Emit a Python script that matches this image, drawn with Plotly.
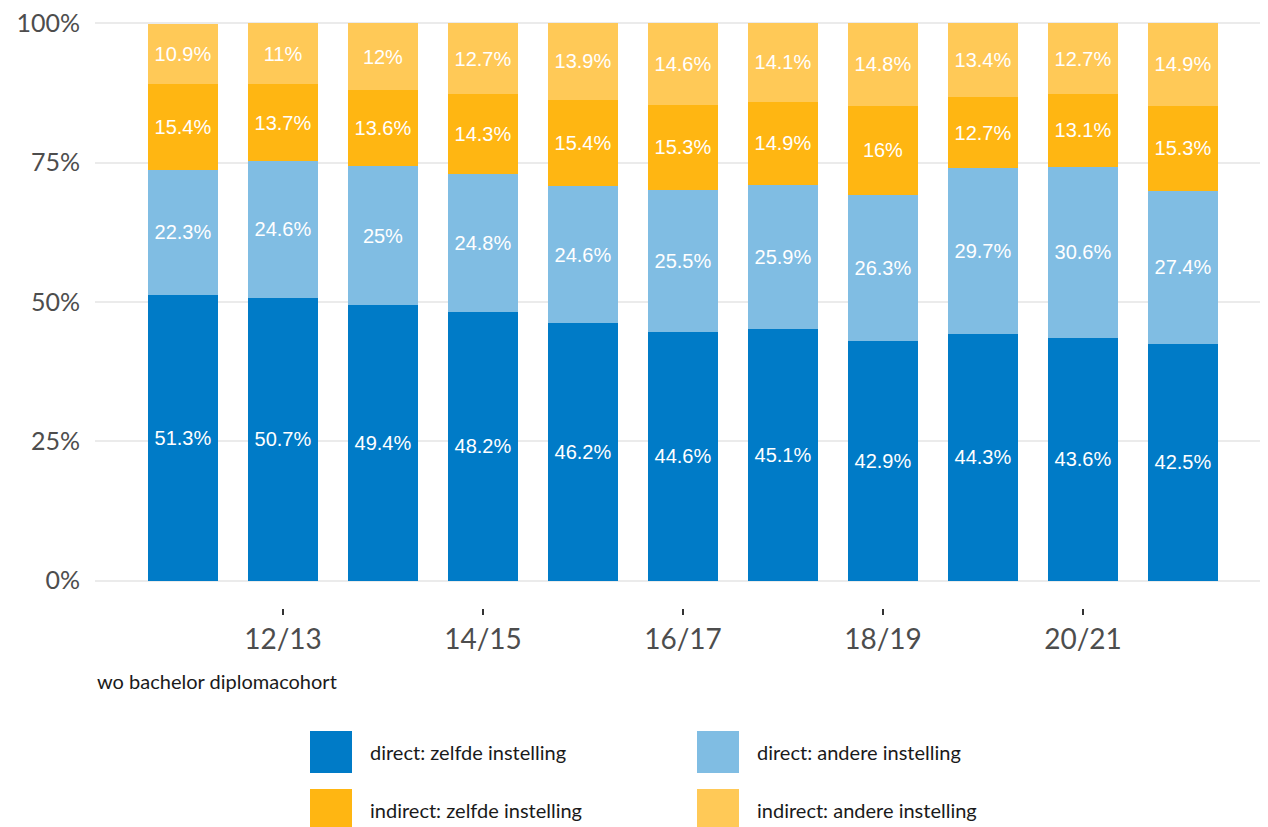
import plotly.graph_objects as go

# cohorten (x-as) en aandelen per categorie, in %
cohorten = ["11/12", "12/13", "13/14", "14/15", "15/16", "16/17",
            "17/18", "18/19", "19/20", "20/21", "21/22"]
tick_labels = ["12/13", "14/15", "16/17", "18/19", "20/21"]

direct_zelfde = [51.3, 50.7, 49.4, 48.2, 46.2, 44.6, 45.1, 42.9, 44.3, 43.6, 42.5]
direct_andere = [22.3, 24.6, 25, 24.8, 24.6, 25.5, 25.9, 26.3, 29.7, 30.6, 27.4]
indirect_zelfde = [15.4, 13.7, 13.6, 14.3, 15.4, 15.3, 14.9, 16, 12.7, 13.1, 15.3]
indirect_andere = [10.9, 11, 12, 12.7, 13.9, 14.6, 14.1, 14.8, 13.4, 12.7, 14.9]

series = [
    ("direct: zelfde instelling", direct_zelfde, "#007bc7"),
    ("direct: andere instelling", direct_andere, "#80bde3"),
    ("indirect: zelfde instelling", indirect_zelfde, "#ffb612"),
    ("indirect: andere instelling", indirect_andere, "#ffc957"),
]

# pagina heeft 8px body-marge, dus figuur iets kleiner en alles 8px verschoven
OFF = 8
W, H = 1268 - OFF, 827 - OFF
L, R, T, B = 95 - OFF, 0, 22 - OFF, 227 - OFF
plot_h = H - T - B


def py(pix):
    # pixel-y in schermbeeld naar paper-y
    return (H - B - (pix - OFF)) / plot_h


def px(pix):
    return (pix - OFF - L) / (W - L - R)


fig = go.Figure()
for name, vals, col in series:
    fig.add_trace(go.Bar(
        x=cohorten, y=vals, name=name, marker_color=col,
        marker_line_width=0,
        text=[f"{v:g}%" for v in vals],
        textposition="inside", insidetextanchor="middle",
        textfont=dict(family="Liberation Sans, Arial", size=20, color="white"),
        constraintext="none", showlegend=False,
        hovertemplate="%{x}: %{y}%<extra>" + name + "</extra>",
    ))

fig.update_layout(
    width=W, height=H,
    barmode="stack", bargap=0.3,
    paper_bgcolor="white", plot_bgcolor="white",
    margin=dict(l=L, r=R, t=T, b=B, autoexpand=False),
    font=dict(family="Lato, sans-serif", color="#4d4d4d"),
    xaxis=dict(
        range=[-0.88, 10.85], tickmode="array", tickvals=tick_labels,
        ticktext=tick_labels, ticks="outside", ticklen=6, tickwidth=2,
        tickcolor="#333333", showgrid=False, showline=False, zeroline=False,
        tickfont=dict(size=28, color="#4d4d4d"),
    ),
    yaxis=dict(
        range=[-4.9, 100.2], tickvals=[0, 25, 50, 75, 100],
        ticktext=["0%", "25%", "50%", "75%", "100%"],
        gridcolor="#ebebeb", gridwidth=2, zeroline=False, showline=False,
        ticks="", ticklabelstandoff=14, ticklabeloverflow="allow",
        automargin=False,
        tickfont=dict(size=25, color="#4d4d4d"),
    ),
)

fig.add_annotation(
    text="wo bachelor diplomacohort", xref="paper", yref="paper",
    x=0, y=py(681), xanchor="left", yanchor="middle", showarrow=False,
    font=dict(family="Lato, sans-serif", size=20, color="#1a1a1a"),
)

# legenda: twee kolommen, grote vierkanten
legend_pos = [(310, 752), (697, 752), (310, 810), (697, 810)]
for (name, _, col), (lx, ly) in zip(series, legend_pos):
    fig.add_shape(
        type="rect", xref="paper", yref="paper", layer="above",
        x0=px(lx), x1=px(lx + 42), y0=py(ly - 21), y1=py(ly + 21),
        fillcolor=col, line_width=0,
    )
    fig.add_annotation(
        text=name, xref="paper", yref="paper",
        x=px(lx + 58), y=py(ly), xanchor="left", yanchor="middle",
        showarrow=False,
        font=dict(family="Lato, sans-serif", size=20, color="#1a1a1a"),
    )

fig.write_html("out.html")
